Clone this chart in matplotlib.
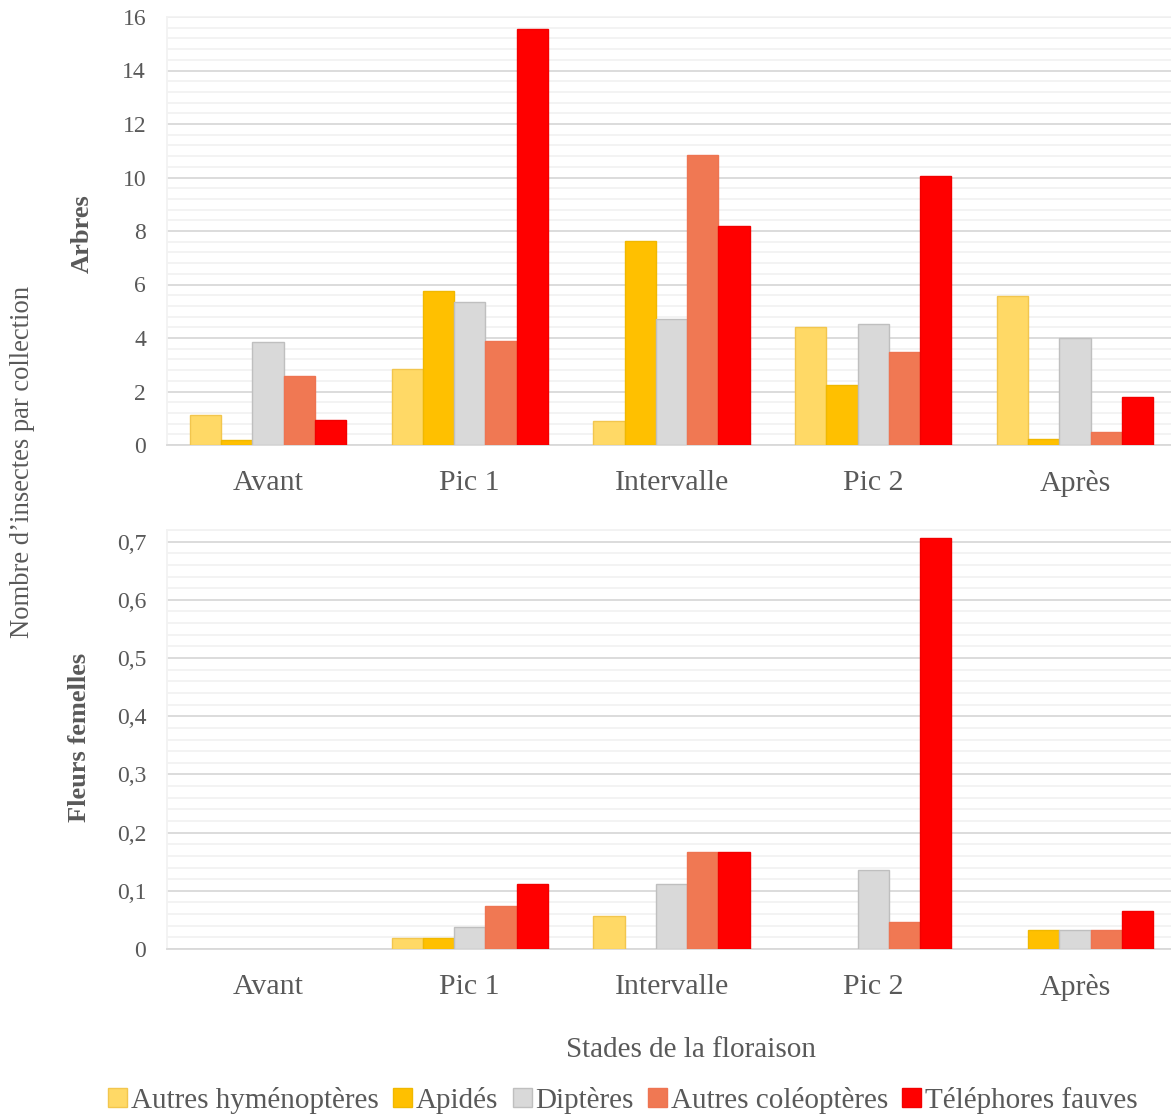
import numpy as np
import matplotlib
matplotlib.use("Agg")
import matplotlib.pyplot as plt
from matplotlib.ticker import MultipleLocator, FuncFormatter
from matplotlib.patches import Patch

plt.rcParams['font.family'] = ['Liberation Serif', 'DejaVu Serif']

stades = ["Avant", "Pic 1", "Intervalle", "Pic 2", "Après"]
groupes = ["Autres hyménoptères", "Apidés", "Diptères", "Autres coléoptères", "Téléphores fauves"]

# Arbres
arb_hymeno = [1.12, 2.83, 0.91, 4.41, 5.57]
arb_apides = [0.19, 5.77, 7.61, 2.23, 0.21]
arb_dipteres = [3.86, 5.33, 4.70, 4.51, 3.99]
arb_coleo = [2.59, 3.89, 10.83, 3.48, 0.49]
arb_teleph = [0.93, 15.57, 8.17, 10.07, 1.78]

# Fleurs femelles
fl_hymeno = [0.0, 0.019, 0.056, 0.0, 0.0]
fl_apides = [0.0, 0.019, 0.0, 0.0, 0.033]
fl_dipteres = [0.0, 0.037, 0.111, 0.136, 0.033]
fl_coleo = [0.0, 0.074, 0.167, 0.046, 0.033]
fl_teleph = [0.0, 0.111, 0.167, 0.706, 0.066]

couleurs = ["#FFD966", "#FFC000", "#D9D9D9", "#F07853", "#FF0000"]
bords = ["#F2C64E", "#F0B800", "#BFBFBF", "#EE7452", "#F20000"]

txt_color = "#595959"
W, H = 1171, 1114
fig = plt.figure(figsize=(W / 100, H / 100), dpi=100)

def box(l, t, r, b):
    return [l / W, 1 - b / H, (r - l) / W, (b - t) / H]

ax1 = fig.add_axes(box(167, 17, 1176, 445))
ax2 = fig.add_axes(box(167, 530, 1176, 949))

def fmt(v, pos):
    if abs(v) < 1e-9:
        return "0"
    s = f"{v:.1f}" if abs(v) < 1 else f"{v:g}"
    return s.replace(".", ",")

def draw(ax, series, ymax, major, minor):
    x = np.arange(len(stades))
    n = len(series)
    bw = 0.155
    for i, vals in enumerate(series):
        off = (i - (n - 1) / 2) * bw
        lw = [1.0 if v > 0 else 0.0 for v in vals]
        ax.bar(x + off, vals, width=bw, color=couleurs[i], edgecolor=bords[i],
               linewidth=lw, zorder=3)
    ax.set_xlim(-0.5, len(stades) - 0.5)
    ax.set_ylim(0, ymax)
    ax.yaxis.set_major_locator(MultipleLocator(major))
    ax.yaxis.set_minor_locator(MultipleLocator(minor))
    ax.yaxis.set_major_formatter(FuncFormatter(fmt))
    ax.grid(True, which="major", axis="y", color="#D9D9D9", linewidth=1.3, zorder=0)
    ax.grid(True, which="minor", axis="y", color="#F2F2F2", linewidth=1.3, zorder=0)
    ax.set_xticks(x)
    ax.set_xticklabels(stades, fontsize=21.5, color=txt_color)
    ax.tick_params(axis="x", length=0, pad=18)
    ax.tick_params(axis="y", which="both", length=0, pad=15, labelsize=17, labelcolor=txt_color)
    ax.spines["right"].set_visible(False)
    ax.spines["top"].set_color("#F2F2F2")
    ax.spines["left"].set_color("#F2F2F2")
    ax.spines["bottom"].set_color("#D9D9D9")
    for s in ["top", "left", "bottom"]:
        ax.spines[s].set_linewidth(1.3)
    ax.set_axisbelow(True)

draw(ax1, [arb_hymeno, arb_apides, arb_dipteres, arb_coleo, arb_teleph], 16, 2, 0.4)
draw(ax2, [fl_hymeno, fl_apides, fl_dipteres, fl_coleo, fl_teleph], 0.72, 0.1, 0.02)

fig.text(82 / W, 1 - 234 / H, "Arbres", rotation=90, ha="center", va="center",
         fontsize=19, fontweight="bold", color=txt_color)
fig.text(80 / W, 1 - 737 / H, "Fleurs femelles", rotation=90, ha="center", va="center",
         fontsize=19, fontweight="bold", color=txt_color)
fig.text(23 / W, 1 - 462 / H, "Nombre d’insectes par collection", rotation=90,
         ha="center", va="center", fontsize=19.2, color=txt_color)
fig.text(691 / W, 1 - 1050 / H, "Stades de la floraison", ha="center", va="center",
         fontsize=21, color=txt_color)

handles = [Patch(facecolor=c, edgecolor=e, linewidth=1.0) for c, e in zip(couleurs, bords)]
leg = fig.legend(handles, groupes, loc="center", bbox_to_anchor=(623 / W, 1 - 1100 / H),
                 ncol=5, frameon=False, fontsize=21, handlelength=0.65, handleheight=0.65,
                 handletextpad=0.12, columnspacing=0.5, borderaxespad=0)
for t in leg.get_texts():
    t.set_color(txt_color)

fig.savefig("out.png", dpi=100, facecolor="white")
